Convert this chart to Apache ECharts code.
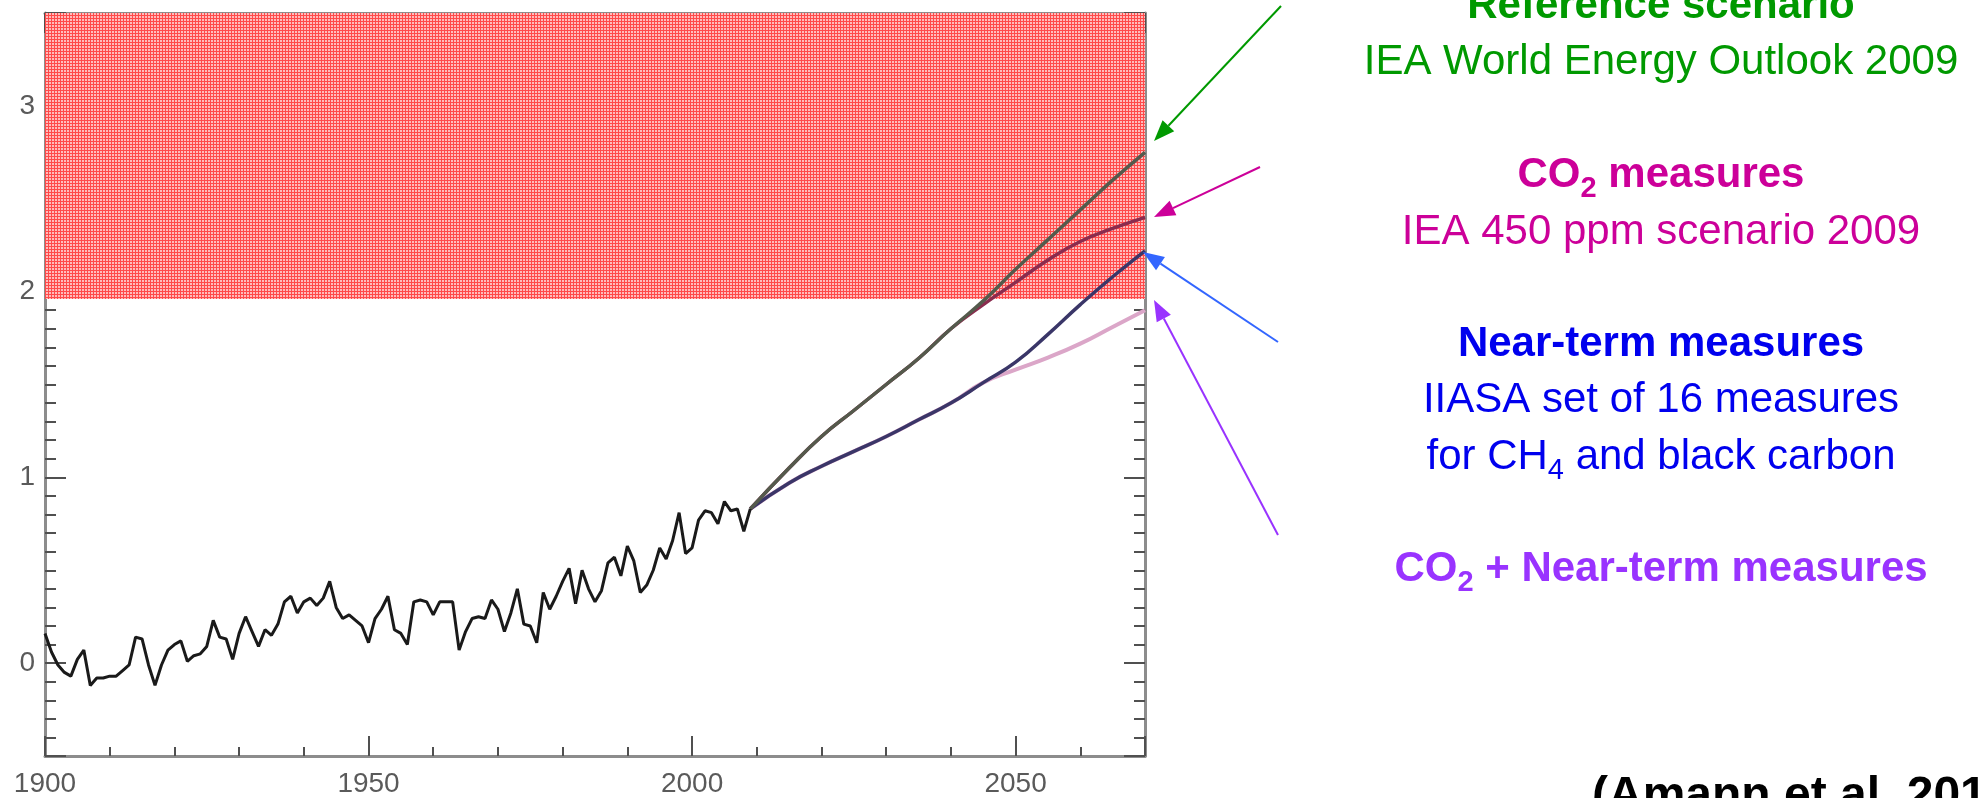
<!DOCTYPE html>
<html>
<head>
<meta charset="utf-8">
<script src="https://cdn.jsdelivr.net/npm/echarts@6/dist/echarts.min.js"></script>
<style>
  html, body { margin: 0; padding: 0; background: #fff; }
  #chart { width: 1978px; height: 798px; }
</style>
</head>
<body>
<div id="chart"></div>
<script>
// observed temperature change, one value per year from 1900
const HIST_START = 1900;
const histTemp = [
  0.16, 0.06, -0.01, -0.05, -0.07, 0.02, 0.07, -0.12, -0.08, -0.08,
  -0.07, -0.07, -0.04, -0.01, 0.14, 0.13, -0.01, -0.12, -0.01, 0.07,
  0.10, 0.12, 0.01, 0.04, 0.05, 0.09, 0.23, 0.14, 0.13, 0.02,
  0.16, 0.25, 0.17, 0.09, 0.18, 0.15, 0.21, 0.33, 0.36, 0.27,
  0.33, 0.35, 0.31, 0.35, 0.44, 0.30, 0.24, 0.26, 0.23, 0.20,
  0.11, 0.24, 0.29, 0.36, 0.18, 0.16, 0.10, 0.33, 0.34, 0.33,
  0.26, 0.33, 0.33, 0.33, 0.07, 0.17, 0.24, 0.25, 0.24, 0.34,
  0.29, 0.17, 0.27, 0.40, 0.21, 0.20, 0.11, 0.38, 0.29, 0.36,
  0.44, 0.51, 0.32, 0.50, 0.40, 0.33, 0.39, 0.54, 0.57, 0.47,
  0.63, 0.55, 0.38, 0.42, 0.50, 0.62, 0.56, 0.66, 0.81, 0.59,
  0.62, 0.77, 0.82, 0.81, 0.75, 0.87, 0.82, 0.83, 0.71, 0.83,
];

// scenario projections
const scenarioYears = [2009, 2015, 2020, 2025, 2030, 2035, 2040, 2045, 2050, 2055, 2060, 2065, 2070];
const referenceScenario = [0.83, 1.05, 1.22, 1.36, 1.50, 1.64, 1.80, 1.95, 2.12, 2.28, 2.44, 2.60, 2.75];
const co2Measures       = [0.83, 1.05, 1.22, 1.36, 1.50, 1.64, 1.80, 1.93, 2.05, 2.17, 2.27, 2.34, 2.40];
const nearTermMeasures  = [0.83, 0.97, 1.06, 1.14, 1.22, 1.31, 1.40, 1.51, 1.62, 1.77, 1.93, 2.08, 2.22];
const co2PlusNearTerm   = [0.83, 0.97, 1.06, 1.14, 1.22, 1.31, 1.40, 1.51, 1.58, 1.645, 1.72, 1.81, 1.90];

const dangerBand = [1.96, 3.5];
const xRange = [1900, 2070];
const yRange = [-0.5, 3.5];

const GREEN = "#009900";
const MAGENTA = "#cc0099";
const BLUE = "#0000ee";
const PURPLE = "#9933ff";
const AXIS_GRAY = "#8c8c8c";
const TICK = "#505050";
const FONT = '"Liberation Sans", Arial, sans-serif';

function hatchPattern() {
  const c = document.createElement("canvas");
  c.width = 3;
  c.height = 3;
  const g = c.getContext("2d");
  g.fillStyle = "#ffbcbc";
  g.fillRect(0, 0, 3, 3);
  g.fillStyle = "#ff4a4a";
  g.fillRect(0, 0, 3, 1);
  g.fillRect(0, 0, 1, 3);
  return c;
}

function pairs(xs, ys) {
  return xs.map((x, i) => [x, ys[i]]);
}

const histData = histTemp.map((v, i) => [HIST_START + i, v]);

function xAxisDef(position, interval, tickLen, withLabels, withLine) {
  return {
    type: "value", position, min: xRange[0], max: xRange[1], interval,
    axisLine: { show: withLine, onZero: false, lineStyle: { color: AXIS_GRAY, width: 3 } },
    axisTick: { show: true, inside: true, length: tickLen, lineStyle: { color: TICK, width: 2 } },
    axisLabel: {
      show: withLabels, margin: 14, fontSize: 28, color: "#5a5a5a", fontFamily: FONT,
      formatter: (v) => (v % 50 === 0 ? String(v) : ""),
    },
    splitLine: { show: false },
  };
}

function yAxisDef(position, minor, tickLen, withLabels, withLine) {
  const def = {
    type: "value", position, min: yRange[0], max: yRange[1],
    axisLine: { show: withLine, onZero: false, lineStyle: { color: AXIS_GRAY, width: 3 } },
    axisTick: { show: true, inside: true, length: tickLen, lineStyle: { color: TICK, width: 2 } },
    axisLabel: {
      show: withLabels, margin: 10, fontSize: 28, color: "#5a5a5a", fontFamily: FONT,
      formatter: (v) => (Math.abs(v - Math.round(v)) < 1e-6 ? String(Math.round(v)) : ""),
    },
    splitLine: { show: false },
  };
  if (minor) def.interval = 0.1;
  else def.splitNumber = 4;
  return def;
}

function arrow(x1, y1, x2, y2, color) {
  const a = Math.atan2(y2 - y1, x2 - x1);
  const L = 21, W = 8;
  const bx = x2 - L * Math.cos(a), by = y2 - L * Math.sin(a);
  return [
    { type: "line", z: 50, shape: { x1, y1, x2: bx, y2: by }, style: { stroke: color, lineWidth: 2 } },
    {
      type: "polygon", z: 50,
      shape: { points: [[x2, y2], [bx + W * Math.sin(a), by - W * Math.cos(a)], [bx - W * Math.sin(a), by + W * Math.cos(a)]] },
      style: { fill: color },
    },
  ];
}

function richStyles(color, size) {
  const s = size || 42;
  return {
    b: { fontSize: s, fontWeight: "bold", fontFamily: FONT, fill: color, color, lineHeight: 56 },
    r: { fontSize: s, fontWeight: "normal", fontFamily: FONT, fill: color, color, lineHeight: 56 },
    bs: { fontSize: 29, fontWeight: "bold", fontFamily: FONT, fill: color, color, lineHeight: 28, verticalAlign: "bottom" },
    rs: { fontSize: 29, fontWeight: "normal", fontFamily: FONT, fill: color, color, lineHeight: 28, verticalAlign: "bottom" },
  };
}

function label(text, x, y, color, align, size) {
  return {
    type: "text", z: 50, x, y,
    style: {
      text, rich: richStyles(color, size), fill: color,
      font: (size || 42) + "px " + FONT,
      align: align || "center", textAlign: align || "center",
      verticalAlign: "middle", textVerticalAlign: "middle",
    },
  };
}

const TEXT_X = 1661;
const graphics = [
  label("{b|Reference scenario}", TEXT_X, 6, GREEN),
  label("{r|IEA World Energy Outlook 2009}", TEXT_X, 62, GREEN),
  label("{b|CO}{bs|2}{b| measures}", TEXT_X, 175, MAGENTA),
  label("{r|IEA 450 ppm scenario 2009}", TEXT_X, 232, MAGENTA),
  label("{b|Near-term measures}", TEXT_X, 344, BLUE),
  label("{r|IIASA set of 16 measures}", TEXT_X, 400, BLUE),
  label("{r|for CH}{rs|4}{r| and black carbon}", TEXT_X, 457, BLUE),
  label("{b|CO}{bs|2}{b| + Near-term measures}", TEXT_X, 569, PURPLE),
  label("{b|(Amann et al. 2011)}", 1592, 797, "#000000", "left", 48),
  ...arrow(1281, 6, 1154, 141, GREEN),
  ...arrow(1260, 167, 1154, 217, MAGENTA),
  ...arrow(1278, 342, 1143, 252, "#3366ff"),
  ...arrow(1278, 535, 1154, 300, PURPLE),
];

const chart = echarts.init(document.getElementById("chart"), null, { renderer: "canvas" });

chart.setOption({
  animation: false,
  backgroundColor: "#ffffff",
  grid: { left: 45, right: 833, top: 13, bottom: 41, containLabel: false },
  xAxis: [
    xAxisDef("bottom", 50, 20, true, true),
    xAxisDef("bottom", 10, 9, false, false),
    xAxisDef("top", 50, 20, false, true),
    xAxisDef("top", 10, 9, false, false),
  ],
  yAxis: [
    yAxisDef("left", false, 21, true, true),
    yAxisDef("left", true, 11, false, false),
    yAxisDef("right", false, 21, false, true),
    yAxisDef("right", true, 11, false, false),
  ],
  series: [
    {
      name: "danger", type: "line", data: [], z: 1, silent: true,
      markArea: {
        silent: true,
        itemStyle: { color: { image: hatchPattern(), repeat: "repeat" } },
        data: [[{ xAxis: xRange[0], yAxis: dangerBand[0] }, { xAxis: xRange[1], yAxis: dangerBand[1] }]],
      },
    },
    {
      name: "observed", type: "line", data: histData, showSymbol: false, z: 5,
      lineStyle: { color: "#1a1a1a", width: 3 },
    },
    {
      name: "CO2 + Near-term", type: "line", data: pairs(scenarioYears, co2PlusNearTerm), showSymbol: false, smooth: 0.5, z: 3,
      lineStyle: { color: "#dba6c8", width: 4 },
    },
    {
      name: "Near-term", type: "line", data: pairs(scenarioYears, nearTermMeasures), showSymbol: false, smooth: 0.5, z: 4,
      lineStyle: { color: "#3a3668", width: 3.5 },
    },
    {
      name: "CO2", type: "line", data: pairs(scenarioYears, co2Measures), showSymbol: false, smooth: 0.5, z: 3,
      lineStyle: { color: "#8a2c4e", width: 3.5 },
    },
    {
      name: "Reference", type: "line", data: pairs(scenarioYears, referenceScenario), showSymbol: false, smooth: 0.5, z: 4,
      lineStyle: { color: "#545a4c", width: 3.5 },
    },
  ],
  graphic: graphics,
});
</script>
</body>
</html>
